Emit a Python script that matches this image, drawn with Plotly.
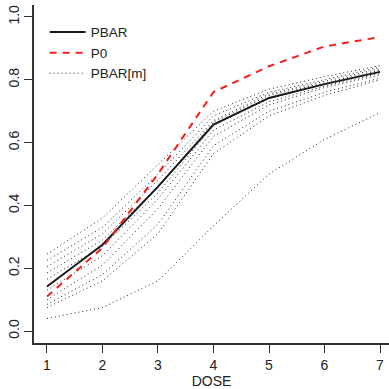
import plotly.graph_objects as go

dose = [1, 2, 3, 4, 5, 6, 7]

pbar = [0.142, 0.275, 0.460, 0.657, 0.742, 0.786, 0.825]
p0 = [0.110, 0.265, 0.500, 0.761, 0.843, 0.906, 0.936]

pbar_m1 = [0.245, 0.360, 0.530, 0.700, 0.770, 0.810, 0.845]
pbar_m2 = [0.225, 0.330, 0.500, 0.685, 0.760, 0.800, 0.840]
pbar_m3 = [0.205, 0.310, 0.480, 0.670, 0.755, 0.795, 0.835]
pbar_m4 = [0.185, 0.290, 0.460, 0.665, 0.750, 0.790, 0.830]
pbar_m5 = [0.165, 0.270, 0.440, 0.655, 0.740, 0.785, 0.825]
pbar_m6 = [0.130, 0.240, 0.420, 0.640, 0.730, 0.780, 0.820]
pbar_m7 = [0.100, 0.210, 0.390, 0.620, 0.720, 0.775, 0.815]
pbar_m8 = [0.085, 0.180, 0.340, 0.590, 0.700, 0.760, 0.805]
pbar_m9 = [0.075, 0.160, 0.310, 0.565, 0.685, 0.750, 0.800]
pbar_m10 = [0.040, 0.075, 0.160, 0.335, 0.500, 0.610, 0.695]
pbar_m = [pbar_m1, pbar_m2, pbar_m3, pbar_m4, pbar_m5,
          pbar_m6, pbar_m7, pbar_m8, pbar_m9, pbar_m10]

x_ticks = [1, 2, 3, 4, 5, 6, 7]
y_ticks = [0.0, 0.2, 0.4, 0.6, 0.8, 1.0]
y_tick_labels = ["0.0", "0.2", "0.4", "0.6", "0.8", "1.0"]

FONT = "Liberation Sans, Arial, Helvetica, sans-serif"
TXT = "#222222"

fig = go.Figure()

for i, ys in enumerate(pbar_m):
    fig.add_trace(go.Scatter(
        x=dose, y=ys, mode="lines", name="PBAR[m]",
        legendgroup="m", showlegend=(i == 0), legendrank=3,
        line=dict(color="#222222", width=1, dash="1px,3px"),
        hoverinfo="skip"))

fig.add_trace(go.Scatter(
    x=dose, y=pbar, mode="lines", name="PBAR", legendrank=1,
    line=dict(color="#1a1a1a", width=2)))

fig.add_trace(go.Scatter(
    x=dose, y=p0, mode="lines", name="P0", legendrank=2,
    line=dict(color="#f02020", width=2, dash="7px,6px")))

fig.update_layout(
    width=389, height=389,
    margin=dict(l=34, r=0, t=5, b=43),
    paper_bgcolor="white", plot_bgcolor="white",
    font=dict(family=FONT, size=14, color=TXT),
    legend=dict(x=0.03, y=0.965, xanchor="left", yanchor="top",
                bgcolor="rgba(0,0,0,0)", borderwidth=0,
                font=dict(family=FONT, size=13.5, color=TXT),
                itemwidth=36, tracegroupgap=0),
    xaxis=dict(range=[0.766, 7.162], tickvals=x_ticks,
               showgrid=False, zeroline=False,
               showline=True, linecolor="#333333", linewidth=1.5,
               ticks="outside", ticklen=8, tickwidth=1.2, tickcolor="#333333",
               tickfont=dict(size=14, color=TXT),
               title=dict(text="DOSE", font=dict(size=14, color=TXT), standoff=7)),
    yaxis=dict(range=[-0.0379, 1.0379], tickvals=y_ticks, ticktext=y_tick_labels,
               showgrid=False, zeroline=False,
               showline=True, linecolor="#333333", linewidth=1.5,
               ticks="outside", ticklen=8, tickwidth=1.2, tickcolor="#333333",
               tickangle=-90,
               tickfont=dict(size=14, color=TXT)),
)

fig.write_html("out.html")
